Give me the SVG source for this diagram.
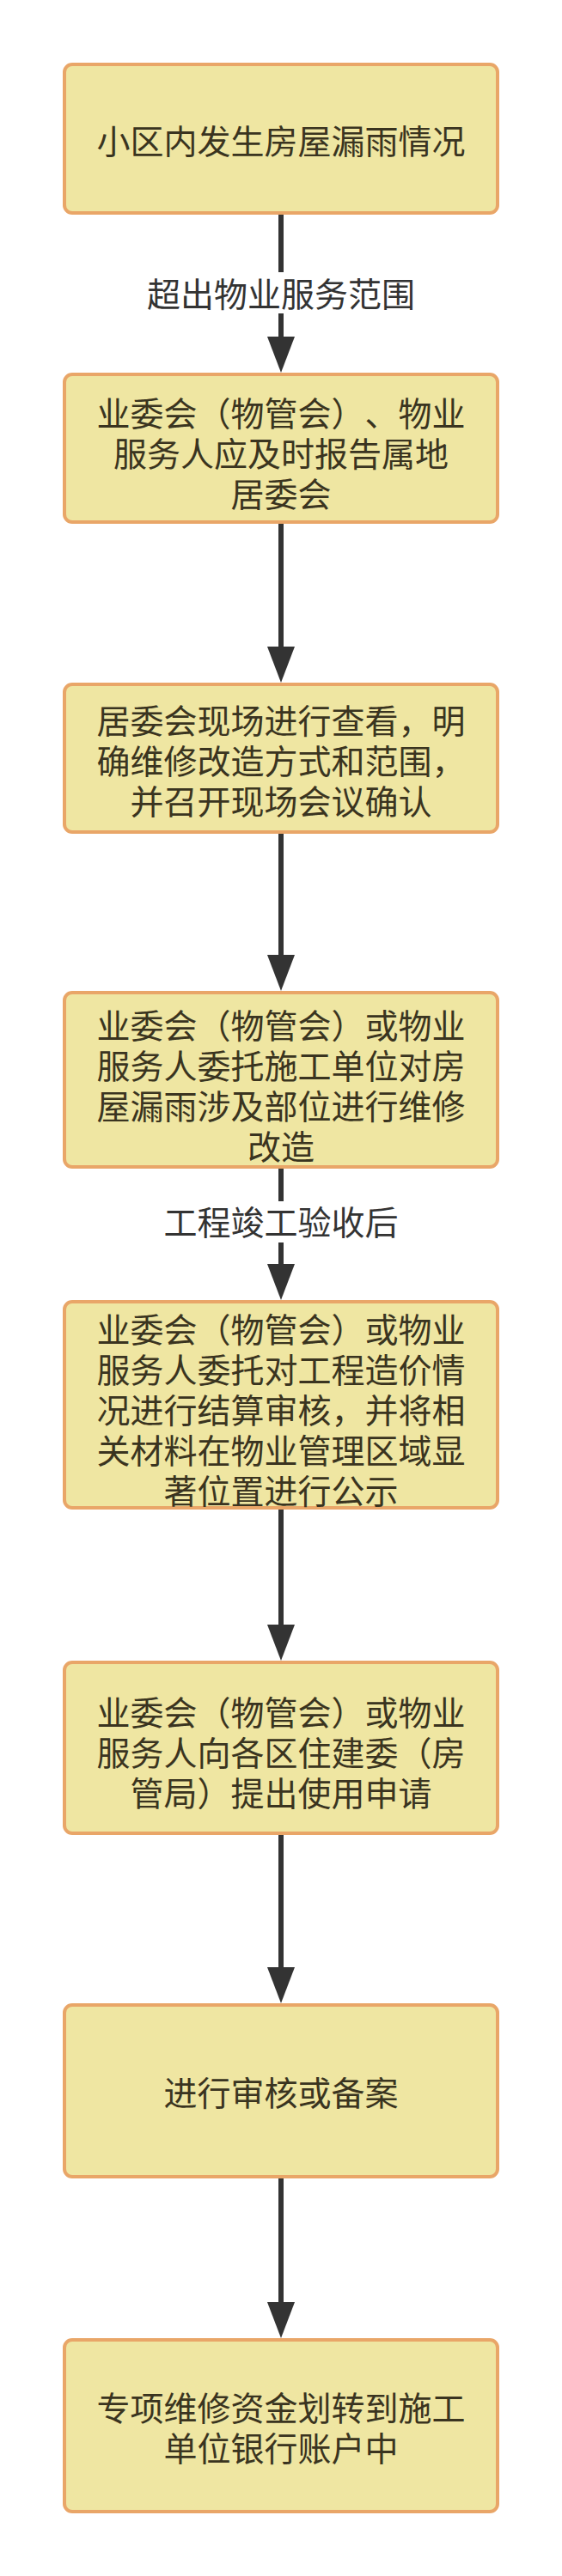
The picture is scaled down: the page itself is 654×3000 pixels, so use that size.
<svg xmlns="http://www.w3.org/2000/svg" width="654" height="3000" viewBox="0 0 654 3000">
  <style>
    .box { fill: #EFE6A2; stroke: #E9A668; stroke-width: 4; }
    .t { font-family: "Liberation Sans", "Noto Sans CJK SC", sans-serif; font-size: 39px; fill: #3a3420; text-anchor: middle; dominant-baseline: central; text-spacing-trim: space-all; }
    .lbl { font-family: "Liberation Sans", "Noto Sans CJK SC", sans-serif; font-size: 39px; fill: #333333; text-anchor: middle; dominant-baseline: central; text-spacing-trim: space-all; }
    .edge { stroke: #333333; stroke-width: 6; fill: none; marker-end: url(#arr); }
    .lblbg { fill: #FFFFFF; }
  </style>
  <defs>
    <marker id="arr" viewBox="0 0 42 32" refX="1" refY="16" markerWidth="42" markerHeight="32" markerUnits="userSpaceOnUse" orient="auto">
      <path d="M0,0 L42,16 L0,32 Z" fill="#333333"/>
    </marker>
  </defs>
  <rect x="0" y="0" width="654" height="3000" fill="#FFFFFF"/>

  <g id="connectors">
    <line class="edge" x1="327" y1="248" x2="327" y2="393"/>
    <rect class="lblbg" x="168" y="317" width="318" height="48"/>
    <text class="lbl" x="327" y="343">超出物业服务范围</text>

    <line class="edge" x1="327" y1="608" x2="327" y2="754"/>
    <line class="edge" x1="327" y1="969" x2="327" y2="1113"/>

    <line class="edge" x1="327" y1="1359" x2="327" y2="1473"/>
    <rect class="lblbg" x="188" y="1399" width="278" height="48"/>
    <text class="lbl" x="327" y="1424">工程竣工验收后</text>

    <line class="edge" x1="327" y1="1756" x2="327" y2="1893"/>
    <line class="edge" x1="327" y1="2135" x2="327" y2="2292"/>
    <line class="edge" x1="327" y1="2535" x2="327" y2="2682"/>
  </g>

  <g id="n1">
    <rect class="box" x="75" y="75" width="504" height="173" rx="9"/>
    <text class="t" x="327" y="165">小区内发生房屋漏雨情况</text>
  </g>

  <g id="n2">
    <rect class="box" x="75" y="436" width="504" height="172" rx="9"/>
    <text class="t" x="327" y="482"><tspan x="327" y="482">业委会（物管会）、物业</tspan><tspan x="327" y="529">服务人应及时报告属地</tspan><tspan x="327" y="576">居委会</tspan></text>
  </g>

  <g id="n3">
    <rect class="box" x="75" y="797" width="504" height="172" rx="9"/>
    <text class="t" x="327" y="840"><tspan x="327" y="840">居委会现场进行查看，明</tspan><tspan x="327" y="887">确维修改造方式和范围，</tspan><tspan x="327" y="934">并召开现场会议确认</tspan></text>
  </g>

  <g id="n4">
    <rect class="box" x="75" y="1156" width="504" height="203" rx="9"/>
    <text class="t" x="327" y="1195"><tspan x="327" y="1195">业委会（物管会）或物业</tspan><tspan x="327" y="1242">服务人委托施工单位对房</tspan><tspan x="327" y="1289">屋漏雨涉及部位进行维修</tspan><tspan x="327" y="1336">改造</tspan></text>
  </g>

  <g id="n5">
    <rect class="box" x="75" y="1516" width="504" height="240" rx="9"/>
    <text class="t" x="327" y="1549"><tspan x="327" y="1549">业委会（物管会）或物业</tspan><tspan x="327" y="1596">服务人委托对工程造价情</tspan><tspan x="327" y="1643">况进行结算审核，并将相</tspan><tspan x="327" y="1690">关材料在物业管理区域显</tspan><tspan x="327" y="1737">著位置进行公示</tspan></text>
  </g>

  <g id="n6">
    <rect class="box" x="75" y="1936" width="504" height="199" rx="9"/>
    <text class="t" x="327" y="1995"><tspan x="327" y="1995">业委会（物管会）或物业</tspan><tspan x="327" y="2042">服务人向各区住建委（房</tspan><tspan x="327" y="2089">管局）提出使用申请</tspan></text>
  </g>

  <g id="n7">
    <rect class="box" x="75" y="2335" width="504" height="200" rx="9"/>
    <text class="t" x="327" y="2438">进行审核或备案</text>
  </g>

  <g id="n8">
    <rect class="box" x="75" y="2725" width="504" height="200" rx="9"/>
    <text class="t" x="327" y="2805"><tspan x="327" y="2805">专项维修资金划转到施工</tspan><tspan x="327" y="2852">单位银行账户中</tspan></text>
  </g>
</svg>
